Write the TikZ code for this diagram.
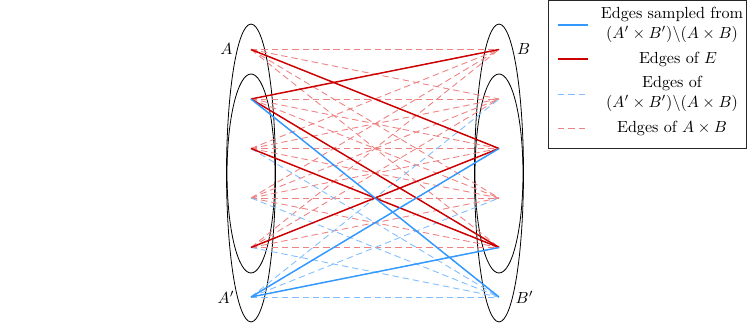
\documentclass[tikz,border=0pt]{standalone}
\usepackage{amsmath,amssymb}
\definecolor{ered}{RGB}{204,0,0}
\definecolor{eblue}{RGB}{51,153,255}
\definecolor{lred}{RGB}{238,130,130}
\definecolor{lblue}{RGB}{130,190,255}
\begin{document}
\begin{tikzpicture}[x=0.6211pt,y=-0.6211pt,
  redsolid/.style={ered,line width=0.9pt},
  bluesolid/.style={eblue,line width=0.9pt},
  reddash/.style={lred,line width=0.55pt,dash pattern=on 4pt off 2.4pt},
  bluedash/.style={lblue,line width=0.55pt,dash pattern=on 4pt off 2.4pt},
  setell/.style={draw=black,line width=0.5pt},
  lbl/.style={inner sep=0pt},
  legtext/.style={align=center,inner sep=0pt}]
\useasboundingbox (0,0) rectangle (747,323);
\foreach \i/\y in {1/49.5,2/99,3/148.5,4/198,5/247.5,6/297}{
  \coordinate (L\i) at (251,\y);
  \coordinate (R\i) at (499,\y);
}
% set ellipses
\draw[setell] (251,173) ellipse [x radius=15.2pt, y radius=92.5pt];
\draw[setell] (251,173.5) ellipse [x radius=14.9pt, y radius=61.8pt];
\draw[setell] (499,173) ellipse [x radius=15.2pt, y radius=92.5pt];
\draw[setell] (499,173.5) ellipse [x radius=14.9pt, y radius=61.8pt];
% A x B
\foreach \i in {1,...,5}{\foreach \j in {1,...,5}{\draw[reddash] (L\i) -- (R\j);}}
% (A' x B') \ (A x B)
\foreach \j in {2,...,6}{\draw[bluedash] (L6) -- (R\j);}
\foreach \i in {2,...,5}{\draw[bluedash] (L\i) -- (R6);}
% E
\draw[redsolid] (L1) -- (R3);
\draw[redsolid] (L2) -- (R1);
\draw[redsolid] (L2) -- (R5);
\draw[redsolid] (L3) -- (R5);
\draw[redsolid] (L5) -- (R3);
% sampled
\draw[bluesolid] (L2) -- (R6);
\draw[bluesolid] (L6) -- (R3);
\draw[bluesolid] (L6) -- (R5);
% labels
\node[lbl] (la) at (226.5,49) {$A$};
\node[lbl] (lap) at (226,297) {$A'$};
\node[lbl] (lb) at (523.5,49) {$B$};
\node[lbl] (lbp) at (524.5,297) {$B'$};
% legend
\draw[black!85,line width=0.5pt] (548.3,0.4) rectangle (746.5,148);
\coordinate (k1a) at (558,25);  \coordinate (k1b) at (588,25);
\coordinate (k2a) at (558,59);  \coordinate (k2b) at (588,59);
\coordinate (k3a) at (558,94);  \coordinate (k3b) at (588,94);
\coordinate (k4a) at (558,128); \coordinate (k4b) at (588,128);
\draw[bluesolid] (k1a) -- (k1b);
\draw[redsolid] (k2a) -- (k2b);
\draw[bluedash] (k3a) -- (k3b);
\draw[reddash] (k4a) -- (k4b);
\node[legtext] (t1) at (672,25) {Edges sampled from\\$(A'\times B')\backslash(A\times B)$};
\node[legtext] (t2) at (678,59) {Edges of $E$};
\node[legtext] (t3) at (672,94) {Edges of\\$(A'\times B')\backslash(A\times B)$};
\node[legtext] (t4) at (672,128) {Edges of $A\times B$};
\end{tikzpicture}
\end{document}
